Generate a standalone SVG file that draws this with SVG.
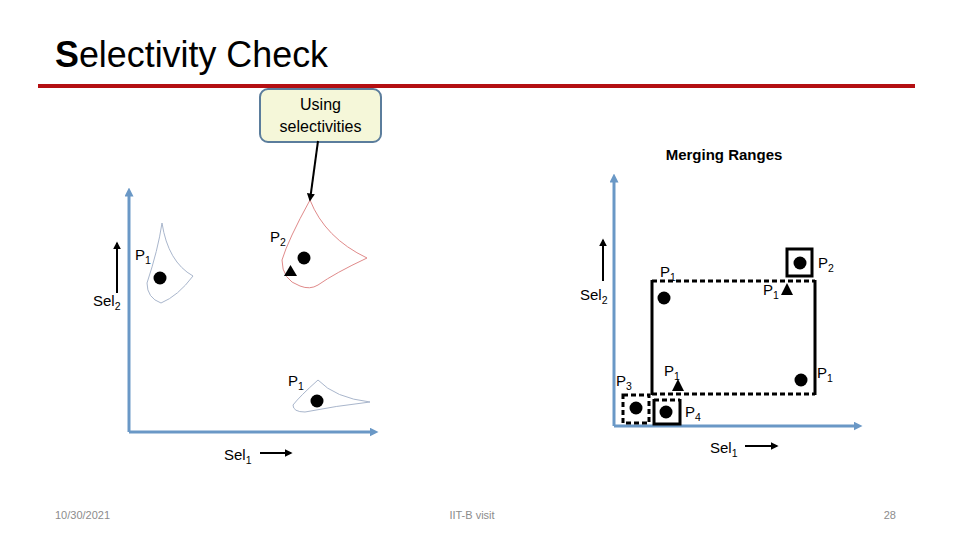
<svg xmlns="http://www.w3.org/2000/svg" width="960" height="540" viewBox="0 0 960 540">
<defs>
<style>
.t{font-family:"Liberation Sans",Arial,sans-serif;fill:#000}
.lbl{font-size:15px}
.sub{font-size:10.5px}
.ax{stroke:#6a98c6;stroke-width:3;fill:none}
.dot{fill:#000}
.sol{stroke:#000;stroke-width:3;fill:none}
.dash{stroke:#000;stroke-width:3;fill:none;stroke-dasharray:5,3}
.foot{font-family:"Liberation Sans",Arial,sans-serif;font-size:11px;fill:#8c8c8c}
</style>
<marker id="axh" viewBox="0 0 10 10" refX="5" refY="5" markerWidth="3" markerHeight="3" orient="auto"><path d="M0,0 L10,5 L0,10 z" fill="#6a98c6"/></marker>
<marker id="bh" viewBox="0 0 10 10" refX="8" refY="5" markerWidth="4" markerHeight="4" orient="auto"><path d="M0,0 L10,5 L0,10 z" fill="#000"/></marker>
</defs>
<rect width="960" height="540" fill="#fff"/>
<g id="title">
<text class="t" x="55" y="67" font-size="37" textLength="273" lengthAdjust="spacingAndGlyphs"><tspan font-weight="bold">S</tspan>electivity Check</text>
<line x1="38" y1="86" x2="915" y2="86" stroke="#b40f12" stroke-width="4"/>
</g>
<g id="callout">
<rect x="260" y="89" width="121" height="53" rx="8" fill="#f5f7d9" stroke="#5b7d9c" stroke-width="2"/>
<text class="t" x="320.5" y="110" font-size="16" text-anchor="middle">Using</text>
<text class="t" x="320.5" y="132" font-size="16" text-anchor="middle">selectivities</text>
</g>
<g id="left-axes">
<line class="ax" x1="129" y1="432" x2="129" y2="192" marker-end="url(#axh)"/>
<line class="ax" x1="129" y1="432" x2="374" y2="432" marker-end="url(#axh)"/>
</g>
<g id="left-p1-region">
<path d="M162,223 Q168,262 193,276 Q178,296 161,303 Q147,298 147,283 Q158,250 162,223 Z" fill="none" stroke="#a9b6cc" stroke-width="1"/>
<circle class="dot" cx="160" cy="278" r="6.5"/>
<text class="t lbl" x="135" y="260">P<tspan class="sub" dy="4">1</tspan></text>
</g>
<g id="left-p2-region">
<path d="M310,200 Q325,238 367,258 Q335,273 318,285 Q310,290 300,286 Q282,280 282,260 Q288,240 310,200 Z" fill="none" stroke="#e08a8a" stroke-width="1"/>
<circle class="dot" cx="304" cy="258" r="6.5"/>
<path d="M290.5,265 L297,276 L284,276 Z" fill="#000"/>
<text class="t lbl" x="270" y="242">P<tspan class="sub" dy="4">2</tspan></text>
</g>
<g id="left-p1-lower">
<path d="M318,380 Q335,398 370,402 Q335,406 305,412 Q293,412 293,405 Q300,396 318,380 Z" fill="none" stroke="#a9b6cc" stroke-width="1"/>
<circle class="dot" cx="317" cy="401" r="6.5"/>
<text class="t lbl" x="288" y="386">P<tspan class="sub" dy="4">1</tspan></text>
</g>
<g id="left-labels">
<text class="t lbl" x="93" y="306">Sel<tspan class="sub" dy="4">2</tspan></text>
<text class="t lbl" x="224" y="460">Sel<tspan class="sub" dy="4">1</tspan></text>
</g>
<g id="merging">
<text class="t" x="724" y="160" font-size="15" font-weight="bold" text-anchor="middle">Merging Ranges</text>
</g>
<g id="right-axes">
<line class="ax" x1="614" y1="426" x2="614" y2="178" marker-end="url(#axh)"/>
<line class="ax" x1="614" y1="426" x2="858" y2="426" marker-end="url(#axh)"/>
</g>
<g id="merged-range">
<line class="dash" x1="652" y1="281" x2="815" y2="281"/>
<line class="sol" x1="652" y1="280" x2="652" y2="395"/>
<line class="dash" x1="652" y1="394" x2="815" y2="394"/>
<line class="sol" x1="815" y1="280" x2="815" y2="395"/>
<circle class="dot" cx="664" cy="298" r="6.5"/>
<circle class="dot" cx="801" cy="380" r="6.5"/>
<path d="M787,283 L793,295 L781,295 Z" fill="#000"/>
<path d="M678,379 L684,391 L672,391 Z" fill="#000"/>
<text class="t lbl" x="660" y="277">P<tspan class="sub" dy="4">1</tspan></text>
<text class="t lbl" x="763" y="295">P<tspan class="sub" dy="4">1</tspan></text>
<text class="t lbl" x="664" y="376">P<tspan class="sub" dy="4">1</tspan></text>
<text class="t lbl" x="817" y="378">P<tspan class="sub" dy="4">1</tspan></text>
</g>
<g id="p2-box">
<rect class="sol" x="787" y="249" width="25" height="27"/>
<circle class="dot" cx="800" cy="263" r="6.5"/>
<text class="t lbl" x="818" y="268">P<tspan class="sub" dy="4">2</tspan></text>
</g>
<g id="p3-box">
<rect class="dash" x="623" y="395" width="26" height="28"/>
<circle class="dot" cx="636" cy="408" r="6.5"/>
<text class="t lbl" x="616" y="386">P<tspan class="sub" dy="4">3</tspan></text>
</g>
<g id="p4-box">
<path class="sol" d="M654,399 L654,424 L680,424 L680,399"/>
<line class="dash" x1="654" y1="400" x2="680" y2="400"/>
<circle class="dot" cx="666" cy="412" r="6.5"/>
<text class="t lbl" x="685" y="417">P<tspan class="sub" dy="4">4</tspan></text>
</g>
<g id="right-labels">
<text class="t lbl" x="580" y="300">Sel<tspan class="sub" dy="4">2</tspan></text>
<text class="t lbl" x="710" y="453">Sel<tspan class="sub" dy="4">1</tspan></text>
</g>
<g id="connectors">
<line x1="318" y1="141" x2="310" y2="200" stroke="#000" stroke-width="2" marker-end="url(#bh)"/>
<line x1="117" y1="293" x2="117" y2="243" stroke="#000" stroke-width="2" marker-end="url(#bh)"/>
<line x1="603" y1="281" x2="603" y2="240" stroke="#000" stroke-width="2" marker-end="url(#bh)"/>
<line x1="260" y1="453" x2="291" y2="453" stroke="#000" stroke-width="2" marker-end="url(#bh)"/>
<line x1="745" y1="446" x2="777" y2="446" stroke="#000" stroke-width="2" marker-end="url(#bh)"/>
</g>
<g id="footer">
<text class="foot" x="55" y="519">10/30/2021</text>
<text class="foot" x="472" y="519" text-anchor="middle">IIT-B visit</text>
<text class="foot" x="896" y="519" text-anchor="end">28</text>
</g>
</svg>
